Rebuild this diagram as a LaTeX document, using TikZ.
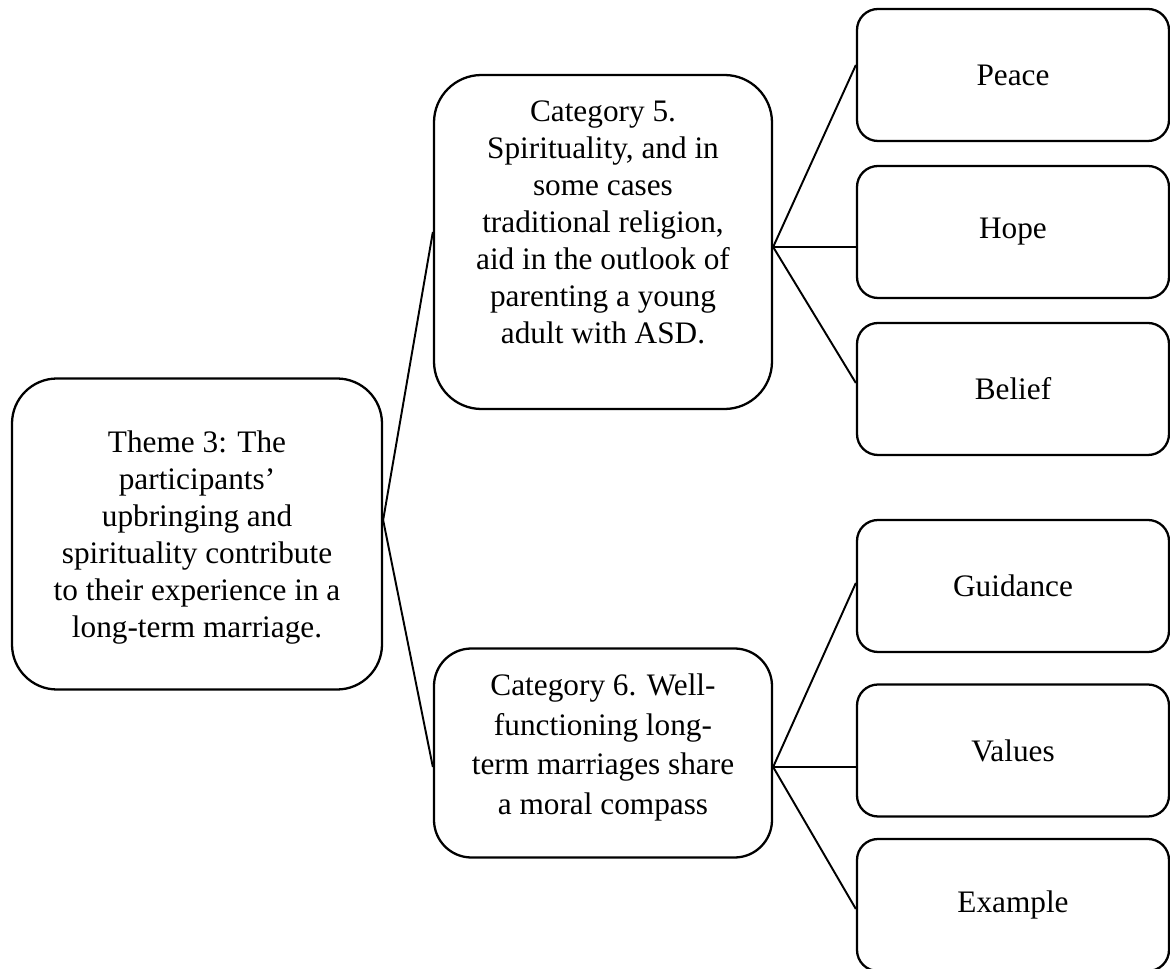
\documentclass[tikz,border=0pt]{standalone}
\usepackage{fontspec}
\setmainfont{Liberation Serif}
\usepackage{tikz}
\usetikzlibrary{positioning, calc}

\begin{document}
\begin{tikzpicture}[
    theme/.style={draw, line width=1.3pt, rounded corners=0.9cm, minimum width=7.4cm, minimum height=6.22cm, align=center, inner sep=0pt, font=\fontsize{17.8}{21}\selectfont},
    cat/.style={draw, line width=1.3pt, rounded corners=0.95cm, minimum width=6.76cm, align=center, inner sep=0pt, font=\fontsize{17.8}{21}\selectfont},
    sub/.style={draw, line width=1.3pt, rounded corners=0.42cm, minimum width=6.24cm, minimum height=2.64cm, align=center, font=\fontsize{17.8}{21}\selectfont},
    link/.style={line width=1.1pt},
]
\useasboundingbox (0,0) rectangle (23.4,-19.38);

\node[theme, text depth=-0.1cm] (theme) at (3.94,-10.68) {Theme 3: The\\participants’\\upbringing and\\spirituality contribute\\to their experience in a\\long-term marriage.};

\node[cat, minimum height=6.68cm, text depth=0.8cm] (cat5) at (12.06,-4.84) {Category 5.\\Spirituality, and in\\some cases\\traditional religion,\\aid in the outlook of\\parenting a young\\adult with ASD.};
\node[cat, minimum height=4.18cm, rounded corners=0.75cm, text depth=0.35cm, font=\fontsize{17.8}{22.5}\selectfont] (cat6) at (12.06,-15.06) {Category 6. Well-\\functioning long-\\term marriages share\\a moral compass};

\node[sub] (peace) at (20.26,-1.50) {Peace};
\node[sub] (hope) at (20.26,-4.64) {Hope};
\node[sub] (belief) at (20.26,-7.78) {Belief};
\node[sub] (guidance) at (20.26,-11.72) {Guidance};
\node[sub] (values) at (20.26,-15.01) {Values};
\node[sub] (example) at (20.26,-18.10) {Example};

% junction points
\coordinate (jt) at ([yshift=0.28cm]theme.east);
\coordinate (j5) at ([yshift=-0.10cm]cat5.east);
\coordinate (j6) at ([yshift=-0.28cm]cat6.east);

\draw[link] (jt) -- ([yshift=0.20cm]cat5.west);
\draw[link] (jt) -- ([yshift=-0.28cm]cat6.west);

\draw[link] (j5) -- ([yshift=0.20cm]peace.west);
\draw[link] (j5) -- (j5 -| hope.west);
\draw[link] (j5) -- ([yshift=0.12cm]belief.west);

\draw[link] (j6) -- ([yshift=0.06cm]guidance.west);
\draw[link] (j6) -- (j6 -| values.west);
\draw[link] (j6) -- ([yshift=-0.08cm]example.west);

\end{tikzpicture}
\end{document}
